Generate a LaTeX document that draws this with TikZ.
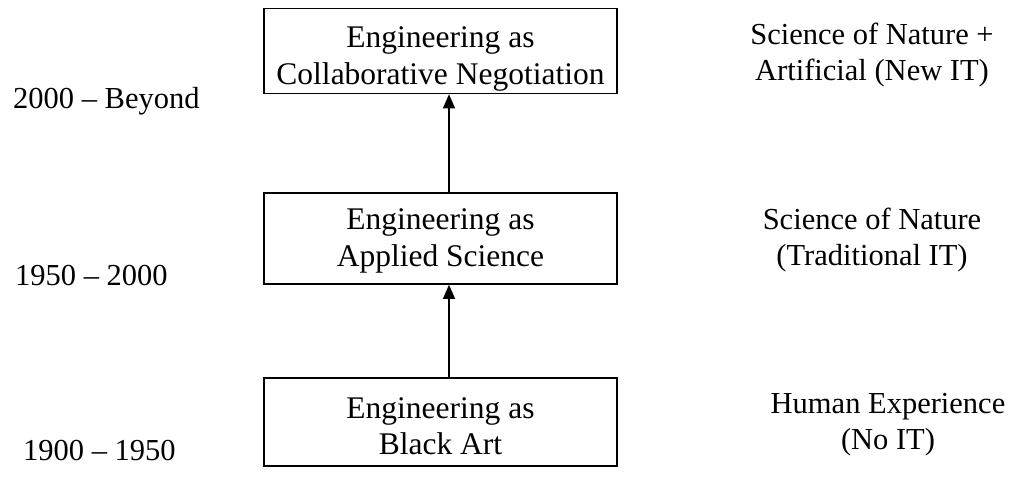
\documentclass[tikz,border=0pt]{standalone}
\usepackage{fontspec}
\setmainfont{Liberation Serif}
\usetikzlibrary{arrows.meta}
\begin{document}
\begin{tikzpicture}[x=1pt,y=-1pt,
  stagebox/.style={draw=black, line width=1.6pt, minimum width=353pt, inner sep=0pt},
  stagetext/.style={align=center, inner sep=0pt, font=\fontsize{31.5}{36.5}\selectfont},
  era/.style={anchor=west, inner sep=0pt, font=\fontsize{30.5}{36}\selectfont},
  basis/.style={align=center, inner sep=0pt, font=\fontsize{30.5}{36}\selectfont},
  rise/.style={line width=1.3pt, -{Triangle[width=12pt,length=14pt]}}]
\useasboundingbox (0,0) rectangle (1014,496);
% the three stages of engineering
\node[stagebox, minimum height=85pt] (top) at (440.5,51) {};
\node[stagebox, minimum height=91pt] (mid) at (440.5,238.5) {};
\node[stagebox, minimum height=88pt] (low) at (440.5,422) {};
\node[stagetext] (topt) at (440.5,59) {Engineering as\\Collaborative Negotiation};
\node[stagetext] (midt) at (440.5,241) {Engineering as\\Applied Science};
\node[stagetext] (lowt) at (440.5,426) {Engineering as\\Black Art};
% arrows rising from one stage to the next
\coordinate (ax) at (449,0);
\draw[rise] (low.north -| ax) -- (mid.south -| ax);
\draw[rise] (mid.north -| ax) -- (top.south -| ax);
% periods
\node[era] (e3) at (13,101) {2000 -- Beyond};
\node[era] (e2) at (15,275) {1950 -- 2000};
\node[era] (e1) at (23,450) {1900 -- 1950};
% knowledge bases
\node[basis] (b3) at (872,55) {Science of Nature +\\Artificial (New IT)};
\node[basis] (b2) at (872,240) {Science of Nature\\(Traditional IT)};
\node[basis] (b1) at (888,425) {Human Experience\\(No IT)};
\end{tikzpicture}
\end{document}
